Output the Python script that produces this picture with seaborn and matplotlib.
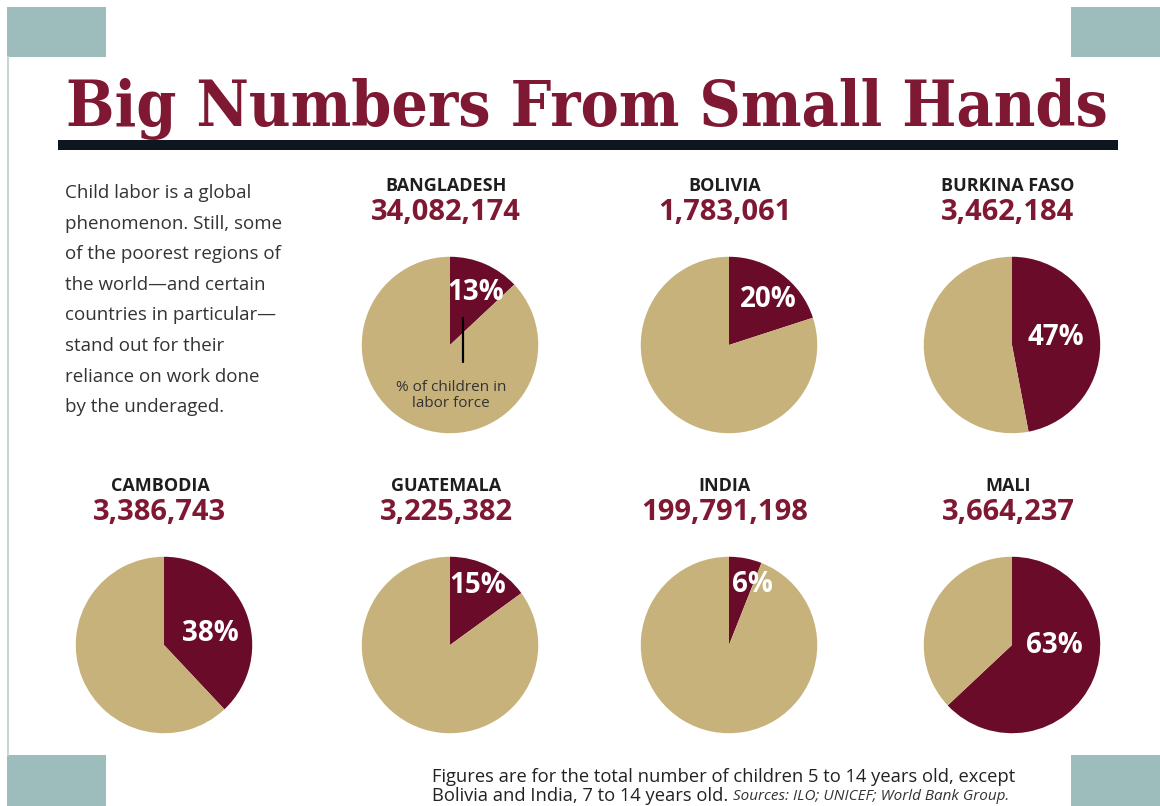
import matplotlib
matplotlib.use("Agg")
import matplotlib.pyplot as plt
import seaborn as sns
from matplotlib.patches import Rectangle
from matplotlib.lines import Line2D

# ---------------- data ----------------
countries = ["BANGLADESH", "BOLIVIA", "BURKINA FASO", "CAMBODIA",
             "GUATEMALA", "INDIA", "MALI"]
child_population = [34082174, 1783061, 3462184, 3386743,
                    3225382, 199791198, 3664237]
labor_pct = [13, 20, 47, 38, 15, 6, 63]

title = "Big Numbers From Small Hands"
intro_lines = ["Child labor is a global",
               "phenomenon. Still, some",
               "of the poorest regions of",
               "the world\u2014and certain",
               "countries in particular\u2014",
               "stand out for their",
               "reliance on work done",
               "by the underaged."]
note_line1 = "Figures are for the total number of children 5 to 14 years old, except"
note_line2 = "Bolivia and India, 7 to 14 years old."
note_sources = "Sources: ILO; UNICEF; World Bank Group."
legend_note = "% of children in\nlabor force"

# ---------------- layout (pixels) ----------------
W, H = 1160, 806
pie_centers = [(450, 345), (729, 345), (1012, 345),
               (164, 645), (450, 645), (729, 645), (1012, 645)]
pie_r = 90
label_offsets = [(0.29, 0.59), (0.44, 0.52), (0.50, 0.08),
                 (0.53, 0.13), (0.31, 0.67), (0.27, 0.68), (0.48, -0.01)]

MAROON = "#6a0b2a"
TAN = "#c8b27c"
TITLE_RED = "#7e1833"
TEAL = "#9dbdbd"
DARK = "#0e1620"

sns.set_theme(style="white")
plt.rcParams["font.family"] = ["Open Sans", "DejaVu Sans"]

fig = plt.figure(figsize=(W / 100, H / 100), dpi=100)
fig.patch.set_facecolor("white")


def fx(x):
    return x / W


def fy(y):
    return 1 - y / H


# decorative teal boxes and frame line
for (x0, y0, x1, y1) in [(7, 7, 106, 57), (1071, 7, 1160, 57),
                         (7, 755, 106, 806), (1071, 755, 1160, 806)]:
    fig.patches.append(Rectangle((fx(x0), fy(y1)), fx(x1) - fx(x0), fy(y0) - fy(y1),
                                 transform=fig.transFigure, color=TEAL, lw=0))
fig.lines.append(Line2D([fx(7.5), fx(7.5)], [fy(57), fy(755)],
                        transform=fig.transFigure, color="#c4d8d8", lw=1.5))

# title
t = fig.text(fx(66), fy(126), title, fontsize=50, family="DejaVu Serif",
             weight="bold", stretch="condensed", color=TITLE_RED,
             ha="left", va="baseline")
fig.canvas.draw()
bb = t.get_window_extent()
t.set_fontsize(50 * (1109 - 66) / bb.width)

# underline bar
fig.patches.append(Rectangle((fx(58), fy(150)), fx(1118) - fx(58), fy(140) - fy(150),
                             transform=fig.transFigure, color=DARK, lw=0))

# intro paragraph
for i, line in enumerate(intro_lines):
    fig.text(fx(65), fy(193 + i * 30.6), line, fontsize=13.5, color="#333333",
             ha="left", va="center")

# pies
for name, pop, pct, (cx, cy), (ox, oy) in zip(countries, child_population, labor_pct,
                                              pie_centers, label_offsets):
    ax = fig.add_axes([fx(cx - pie_r), fy(cy + pie_r), 2 * pie_r / W, 2 * pie_r / H])
    ax.pie([pct, 100 - pct], colors=[MAROON, TAN], startangle=90, counterclock=False,
           wedgeprops=dict(linewidth=0))
    ax.set_xlim(-1.02, 1.02)
    ax.set_ylim(-1.02, 1.02)
    ax.set_aspect("equal")
    ax.axis("off")
    ax.text(ox, oy, f"{pct}%", color="white", fontsize=20, weight="bold",
            ha="center", va="center")
    fig.text(fx(cx - 4), fy(cy - 159), name, fontsize=13, weight="bold",
             color="#1e1e1e", ha="center", va="center")
    fig.text(fx(cx - 4), fy(cy - 132), f"{pop:,}", fontsize=21, weight="bold",
             color=TITLE_RED, ha="center", va="center")
    if name == "BANGLADESH":
        ax.plot([0.145, 0.145], [0.31, -0.19], color="black", lw=1.6)
        ax.text(0.01, -0.57, legend_note, fontsize=11, color="#333333",
                ha="center", va="center", linespacing=1.1)

# footnote
n1 = fig.text(fx(432), fy(777), note_line1, fontsize=13.2, color="#222222",
              ha="left", va="center")
n2 = fig.text(fx(432), fy(796), note_line2, fontsize=13.2, color="#222222",
              ha="left", va="center")
fig.canvas.draw()
bb2 = n2.get_window_extent()
fig.text(fx(bb2.x1 + 5), fy(797), note_sources, fontsize=11, style="italic",
         color="#333333", ha="left", va="center")

fig.savefig("out.png", dpi=100, facecolor="white")
